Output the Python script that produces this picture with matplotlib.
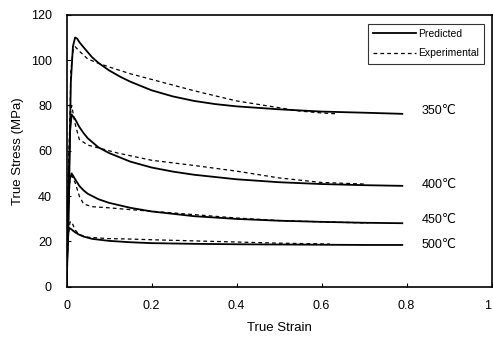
import numpy as np
import matplotlib
matplotlib.use('Agg')
import matplotlib.pyplot as plt

plt.rcParams['font.family'] = ['Liberation Sans', 'DejaVu Sans']

# predicted curves (solid)
p350_x = [0, 0.005, 0.01, 0.015, 0.02, 0.025, 0.03, 0.04, 0.05, 0.06, 0.075, 0.1, 0.125, 0.15, 0.2, 0.25, 0.3, 0.35, 0.4, 0.5, 0.6, 0.7, 0.79]
p350_y = [0, 30, 90, 106, 110, 109.5, 108, 105.7, 103.5, 101.3, 98.8, 95.5, 92.8, 90.5, 86.7, 84, 82, 80.6, 79.6, 78.3, 77.3, 76.8, 76.3]
p400_x = [0, 0.004, 0.008, 0.012, 0.02, 0.03, 0.04, 0.05, 0.075, 0.1, 0.15, 0.2, 0.25, 0.3, 0.4, 0.5, 0.6, 0.7, 0.79]
p400_y = [0, 40, 68, 76, 74, 70.5, 67.8, 65.5, 61.5, 59, 55.2, 52.6, 50.8, 49.4, 47.4, 46.1, 45.3, 44.8, 44.5]
p450_x = [0, 0.003, 0.007, 0.012, 0.02, 0.03, 0.04, 0.05, 0.075, 0.1, 0.15, 0.2, 0.3, 0.4, 0.5, 0.6, 0.7, 0.79]
p450_y = [0, 30, 47, 50, 47.5, 44.5, 42.5, 41, 38.6, 37, 34.8, 33.2, 31.1, 29.9, 29.1, 28.6, 28.2, 28]
p500_x = [0, 0.002, 0.005, 0.01, 0.02, 0.03, 0.04, 0.06, 0.1, 0.15, 0.2, 0.3, 0.4, 0.5, 0.6, 0.7, 0.79]
p500_y = [0, 18, 26, 25.5, 24, 22.9, 22.1, 21.1, 20.2, 19.6, 19.2, 18.9, 18.7, 18.6, 18.5, 18.4, 18.4]

# experimental curves (dashed)
e350_x = [0, 0.005, 0.01, 0.015, 0.02, 0.03, 0.05, 0.07, 0.1, 0.15, 0.2, 0.3, 0.4, 0.5, 0.55, 0.6, 0.635]
e350_y = [0, 40, 95, 104, 106, 104, 100.5, 99, 97, 94, 91.5, 86.5, 82, 79, 77.5, 76.7, 76.3]
e400_x = [0, 0.004, 0.008, 0.012, 0.02, 0.03, 0.05, 0.08, 0.12, 0.2, 0.3, 0.4, 0.5, 0.6, 0.7]
e400_y = [0, 50, 75, 80, 72, 65, 62.5, 61, 59, 55.8, 53.5, 51, 48, 46, 45.3]
e450_x = [0, 0.004, 0.008, 0.012, 0.02, 0.03, 0.04, 0.06, 0.1, 0.15, 0.2, 0.3, 0.4, 0.5, 0.6, 0.71]
e450_y = [0, 35, 47, 49, 46, 40, 36.5, 35.3, 34.8, 34, 33.3, 31.8, 30.3, 29.2, 28.6, 28.1]
e500_x = [0, 0.003, 0.008, 0.012, 0.02, 0.03, 0.05, 0.1, 0.15, 0.2, 0.3, 0.4, 0.5, 0.62]
e500_y = [0, 20, 28.5, 28.7, 25, 23, 21.8, 21.2, 21, 20.7, 20.2, 19.7, 19.2, 18.8]

temps = ['350\u2103', '400\u2103', '450\u2103', '500\u2103']
temp_y = [77.6, 44.9, 29.5, 18.4]

fig = plt.figure(figsize=(4.93, 3.38), dpi=100)
ax = fig.add_axes([0.135, 0.152, 0.862, 0.804])

preds = [(p350_x, p350_y), (p400_x, p400_y), (p450_x, p450_y), (p500_x, p500_y)]
exps = [(e350_x, e350_y), (e400_x, e400_y), (e450_x, e450_y), (e500_x, e500_y)]
for i, (x, y) in enumerate(preds):
    ax.plot(x, y, color='black', lw=1.3, label='Predicted' if i == 0 else None)
for i, (x, y) in enumerate(exps):
    ax.plot(x, y, color='black', lw=0.9, ls=(0, (3, 2.5)), label='Experimental' if i == 0 else None)

for t, y in zip(temps, temp_y):
    ax.text(0.835, y, t, fontsize=9, va='center', ha='left')

ax.set_xlim(0, 1)
ax.set_ylim(0, 120)
ax.set_xticks([0, 0.2, 0.4, 0.6, 0.8, 1])
ax.set_xticklabels(['0', '0.2', '0.4', '0.6', '0.8', '1'])
ax.get_xticklabels()[-1].set_ha('right')
ax.set_yticks(range(0, 121, 20))
ax.tick_params(direction='in', length=3, labelsize=9)
ax.tick_params(axis='x', pad=9.5)
ax.tick_params(axis='y', pad=10.5)
for s in ax.spines.values():
    s.set_linewidth(1.2)

ax.set_xlabel('True Strain', fontsize=9.5, labelpad=7)
ax.set_ylabel('True Stress (MPa)', fontsize=9.5, labelpad=5)

leg = ax.legend(loc='upper right', bbox_to_anchor=(0.982, 0.967), borderaxespad=0,
                fontsize=7.5, frameon=True, fancybox=False, edgecolor='black',
                handlelength=4.1, handletextpad=0.2, borderpad=0.5, labelspacing=0.9)
leg.get_frame().set_linewidth(0.8)

fig.savefig('out.png', dpi=100)
